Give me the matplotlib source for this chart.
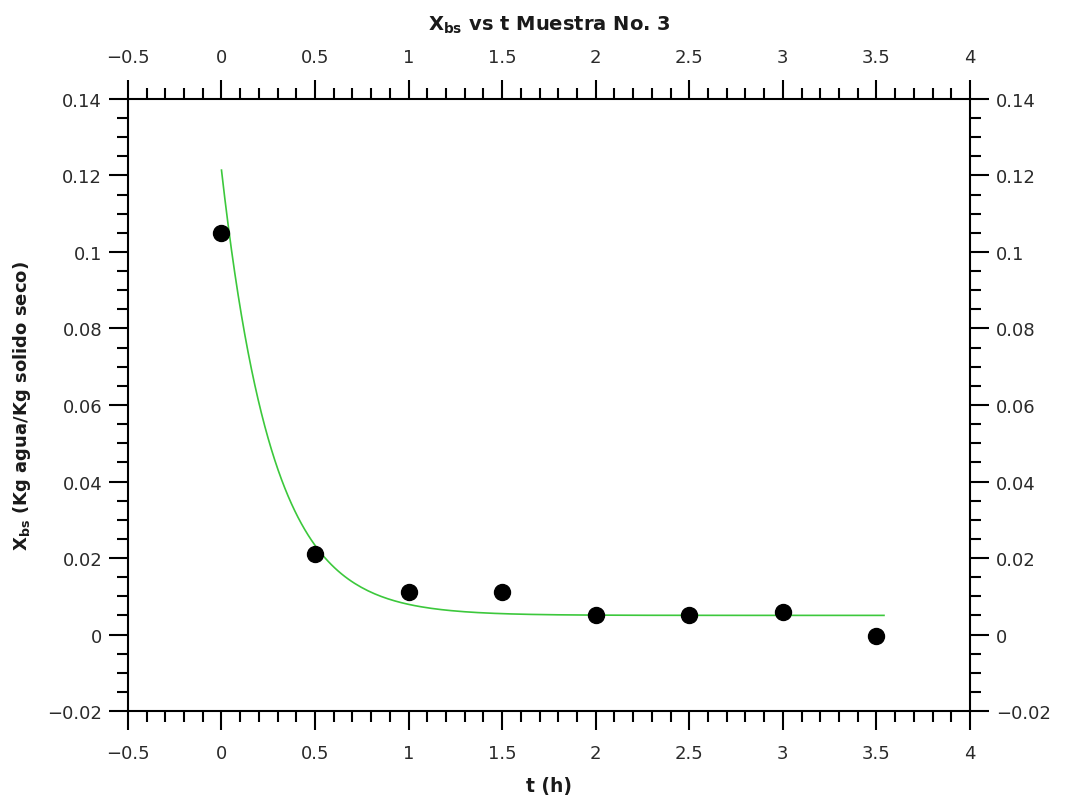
import numpy as np
import matplotlib.pyplot as plt
from matplotlib.ticker import MultipleLocator

plt.rcParams['mathtext.fontset'] = 'dejavusans'

# tiempo de secado (h) y humedad en base seca (Kg agua/Kg solido seco)
t = [0.0, 0.5, 1.0, 1.5, 2.0, 2.5, 3.0, 3.5]
X_bs = [0.105, 0.021, 0.011, 0.011, 0.005, 0.005, 0.006, -0.0003]

# parametros del ajuste exponencial X = A*exp(-k*t) + Xe
A_fit = 0.1164
k_fit = 3.7
Xe_fit = 0.005
t_fin = 3.54

t_fit = np.linspace(0, t_fin, 200)
X_fit = A_fit * np.exp(-k_fit * t_fit) + Xe_fit


def etiqueta(v):
    # etiquetas con signo menos tipografico
    s = '%g' % round(v, 3)
    if s in ('0', '-0'):
        return '0'
    return s.replace('-', '\u2212')


fig = plt.figure(figsize=(10.66, 8.03), dpi=100)
ax = fig.add_axes([0.120, 0.1133, 0.790, 0.7622])

ax.plot(t_fit, X_fit, color='#3cc83c', lw=1.2, zorder=2)
ax.plot(t, X_bs, 'o', color='black', markersize=11.5, zorder=3)

ax.set_xlim(-0.5, 4)
ax.set_ylim(-0.02, 0.14)
ax.xaxis.set_minor_locator(MultipleLocator(0.1))
ax.yaxis.set_minor_locator(MultipleLocator(0.005))

xt = np.arange(-0.5, 4.01, 0.5)
ax.set_xticks(xt)
ax.set_xticklabels([etiqueta(v) for v in xt])
yt = np.arange(-0.02, 0.141, 0.02)
ax.set_yticks(yt)
ax.set_yticklabels([etiqueta(v) for v in yt])

for s in ax.spines.values():
    s.set_linewidth(1.5)

ax.tick_params(which='both', direction='out', top=True, right=True,
               labeltop=True, labelright=True, width=1.5, labelsize=13,
               colors='black', labelcolor='#2a2a2a')
ax.tick_params(which='major', length=13.5)
ax.tick_params(which='minor', length=8)
ax.tick_params(axis='x', which='major', pad=10)
ax.tick_params(axis='y', which='major', pad=5)

ax.set_title(r'$\mathbf{X_{bs}}$ vs t Muestra No. 3', fontsize=14,
             fontweight='bold', pad=50, color='#1a1a1a')
ax.set_xlabel('t (h)', fontsize=13.5, fontweight='bold', labelpad=10,
              color='#1a1a1a')
ax.set_ylabel(r'$\mathbf{X_{bs}}$ (Kg agua/Kg solido seco)', fontsize=13,
              fontweight='bold', labelpad=10, color='#1a1a1a')

fig.savefig('out.png', dpi=100)
